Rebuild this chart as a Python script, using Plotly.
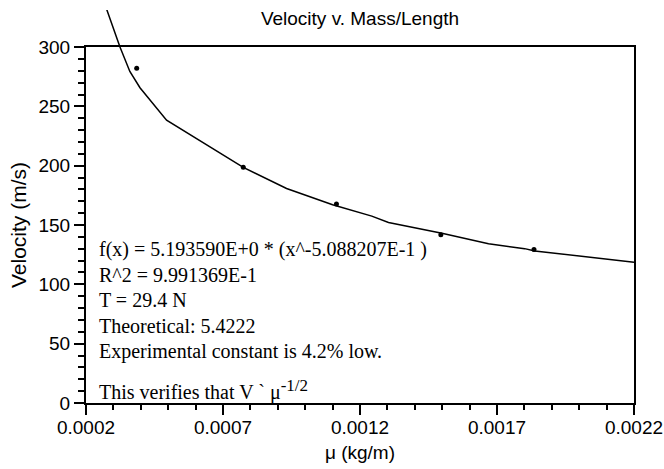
import plotly.graph_objects as go

# Measured data points
mu = [0.000385, 0.000774, 0.001114, 0.001495, 0.001835]
velocity = [282.2, 198.6, 167.7, 141.9, 129.4]

# Fit curve vertices
fit_mu = [0.000266, 0.0002755, 0.0002996, 0.000324, 0.000360, 0.000397, 0.000494,
          0.000639, 0.000774, 0.000932, 0.00110, 0.001243, 0.001304, 0.001499,
          0.001669, 0.001801, 0.001838, 0.0022]
fit_v = [338.0, 331.5, 315.0, 300.0, 279.4, 265.7, 238.4,
         217.5, 198.6, 180.8, 167.1, 157.5, 152.1, 143.0,
         134.2, 130.1, 128.2, 118.6]

x_ticks = [0.0002, 0.0007, 0.0012, 0.0017, 0.0022]
x_ticktext = ["0.0002", "0.0007", "0.0012", "0.0017", "0.0022"]
y_ticks = [0, 50, 100, 150, 200, 250, 300]

notes = [
    "f(x) = 5.193590E+0 * (x^-5.088207E-1 )",
    "R^2 = 9.991369E-1",
    "T = 29.4 N",
    "Theoretical: 5.4222",
    "Experimental constant is 4.2% low.",
    "This verifies that V ` μ<sup><span style='font-size:17px'>-1/2</span></sup>",
]

W, H = 664, 469
L, R, T, B = 86, 30, 0, 66
plot_h = H - T - B
box_h = 365
ymax_main = 300
y_top = ymax_main + (plot_h - box_h) * ymax_main / box_h
split = box_h / plot_h

sans = "Liberation Sans, Arial, sans-serif"
serif = "Liberation Serif, Times New Roman, serif"

fig = go.Figure()
# main subplot
fig.add_trace(go.Scatter(x=fit_mu, y=fit_v, mode="lines",
                         line=dict(color="black", width=1.5), showlegend=False,
                         xaxis="x", yaxis="y"))
fig.add_trace(go.Scatter(x=mu, y=velocity, mode="markers",
                         marker=dict(color="black", size=5), showlegend=False,
                         xaxis="x", yaxis="y"))
# upper strip where the fit curve leaves the box
fig.add_trace(go.Scatter(x=fit_mu, y=fit_v, mode="lines",
                         line=dict(color="black", width=1.5), showlegend=False,
                         xaxis="x2", yaxis="y2"))

fig.update_layout(
    width=W, height=H,
    margin=dict(l=L, r=R, t=T, b=B),
    paper_bgcolor="white", plot_bgcolor="white",
    font=dict(family=sans, size=19, color="black"),
    title=dict(text="Velocity v. Mass/Length", x=0.5, xref="paper", xanchor="center",
               y=1 - 18.5 / H, yref="container", yanchor="middle",
               font=dict(family=sans, size=19, color="black")),
    xaxis=dict(range=[0.0002, 0.0022], domain=[0, 1], anchor="y",
               tickmode="array", tickvals=x_ticks, ticktext=x_ticktext,
               ticks="outside", ticklen=10, tickwidth=1.5, tickcolor="black",
               ticklabelstandoff=-4,
               minor=dict(ticks="outside", dtick=0.0001, tick0=0.0002, ticklen=5,
                          tickwidth=1.5, tickcolor="black", showgrid=False),
               showline=True, linewidth=2, linecolor="black", mirror=True,
               showgrid=False, zeroline=False,
               tickfont=dict(family=sans, size=19),
               title=dict(text="μ (kg/m)", standoff=9, font=dict(family=sans, size=19))),
    yaxis=dict(range=[0, 300], domain=[0, split], anchor="x",
               tickmode="array", tickvals=y_ticks,
               ticks="outside", ticklen=10, tickwidth=1.5, tickcolor="black",
               minor=dict(ticks="outside", dtick=10, tick0=0, ticklen=6,
                          tickwidth=1.5, tickcolor="black", showgrid=False),
               showline=True, linewidth=2, linecolor="black", mirror=True,
               showgrid=False, zeroline=False,
               tickfont=dict(family=sans, size=19),
               title=dict(text="Velocity (m/s)", standoff=6, font=dict(family=sans, size=21))),
    xaxis2=dict(range=[0.0002, 0.0022], domain=[0, 1], anchor="y2",
                visible=False, showgrid=False, zeroline=False),
    yaxis2=dict(range=[300, y_top], domain=[split, 1], anchor="x2",
                visible=False, showgrid=False, zeroline=False),
)

note_y = [0.390, 0.3255, 0.261, 0.1965, 0.132, 0.033]
for txt, yy in zip(notes, note_y):
    fig.add_annotation(text=txt, xref="paper", yref="paper", x=0.02, y=yy,
                       xanchor="left", yanchor="middle", showarrow=False,
                       font=dict(family=serif, size=20, color="black"))

fig.write_html("out.html", config={"displayModeBar": False},
               post_script="document.body.style.margin='0px';document.body.style.overflow='hidden';")
